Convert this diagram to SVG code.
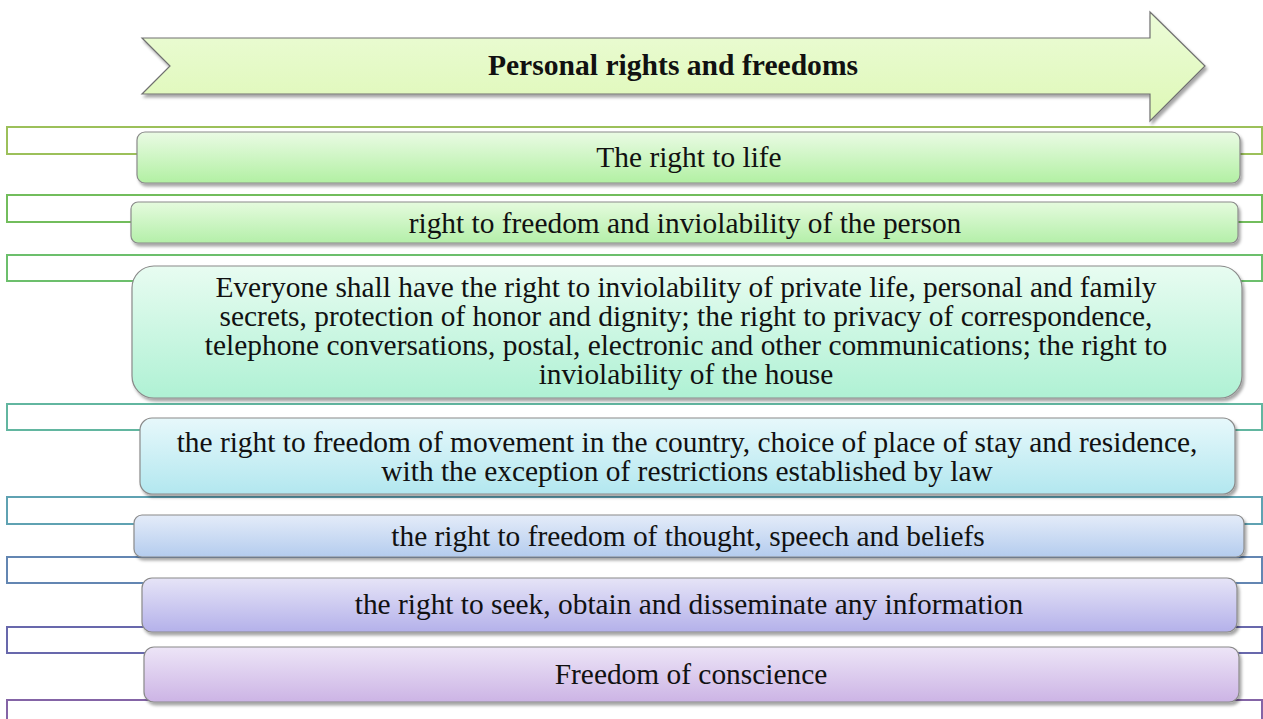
<svg xmlns="http://www.w3.org/2000/svg" width="1263" height="719" viewBox="0 0 1263 719">
<defs>
<filter id="sh" x="-5%" y="-20%" width="110%" height="150%">
<feDropShadow dx="2" dy="3" stdDeviation="1.8" flood-color="#000" flood-opacity="0.35"/>
</filter>
<linearGradient id="gA" x1="0" y1="0" x2="0" y2="1"><stop offset="0" stop-color="#ecfcd8"/><stop offset="1" stop-color="#def8b6"/></linearGradient>
<linearGradient id="g1" x1="0" y1="0" x2="0" y2="1"><stop offset="0" stop-color="#eafbe4"/><stop offset="1" stop-color="#b2f0a3"/></linearGradient>
<linearGradient id="g2" x1="0" y1="0" x2="0" y2="1"><stop offset="0" stop-color="#e5fbde"/><stop offset="1" stop-color="#b4efa9"/></linearGradient>
<linearGradient id="g3" x1="0" y1="0" x2="0" y2="1"><stop offset="0" stop-color="#e8fcf1"/><stop offset="1" stop-color="#aff1d4"/></linearGradient>
<linearGradient id="g4" x1="0" y1="0" x2="0" y2="1"><stop offset="0" stop-color="#e7f8fb"/><stop offset="1" stop-color="#b2e7ef"/></linearGradient>
<linearGradient id="g5" x1="0" y1="0" x2="0" y2="1"><stop offset="0" stop-color="#e4ecf9"/><stop offset="1" stop-color="#b4ccee"/></linearGradient>
<linearGradient id="g6" x1="0" y1="0" x2="0" y2="1"><stop offset="0" stop-color="#e6e4f7"/><stop offset="1" stop-color="#b4b1ea"/></linearGradient>
<linearGradient id="g7" x1="0" y1="0" x2="0" y2="1"><stop offset="0" stop-color="#ede5f7"/><stop offset="1" stop-color="#ccb4e5"/></linearGradient>
</defs>
<style>
.br{fill:none;stroke-width:2}
.box{stroke:#8a8a8a;stroke-width:1.2;filter:url(#sh)}
.t{font-family:"Liberation Serif","Times New Roman",serif;font-size:29.4px;fill:#111;text-anchor:middle}
.tb{font-family:"Liberation Serif","Times New Roman",serif;font-size:29.6px;font-weight:bold;fill:#111;text-anchor:middle}
</style>
<g id="connectors">
<rect class="br" x="7" y="127" width="1255" height="27" stroke="#9cc05a"/>
<rect class="br" x="7" y="195" width="1255" height="27" stroke="#72bd5c"/>
<rect class="br" x="7" y="255" width="1255" height="26" stroke="#6cbf6c"/>
<rect class="br" x="7" y="404" width="1255" height="26" stroke="#62b6a0"/>
<rect class="br" x="7" y="497" width="1255" height="27" stroke="#5fa2b2"/>
<rect class="br" x="7" y="557" width="1255" height="26" stroke="#6386b2"/>
<rect class="br" x="7" y="627" width="1255" height="26" stroke="#6868ac"/>
<rect class="br" x="7" y="700" width="1255" height="27" stroke="#8464a6"/>
</g>
<g id="title">
<polygon points="142,38 1150,38 1150,12 1205,66 1150,121 1150,94 142,94 170,66" fill="url(#gA)" stroke="#707070" stroke-width="1.2" filter="url(#sh)"/>
<text class="tb" x="673" y="75">Personal rights and freedoms</text>
</g>
<g id="n1">
<rect class="box" x="137" y="132" width="1103" height="51" rx="8" fill="url(#g1)"/>
<text class="t" x="689" y="167">The right to life</text>
</g>
<g id="n2">
<rect class="box" x="131" y="202" width="1107" height="41" rx="7" fill="url(#g2)"/>
<text class="t" x="685" y="233">right to freedom and inviolability of the person</text>
</g>
<g id="n3">
<rect class="box" x="132" y="266" width="1110" height="132" rx="22" fill="url(#g3)"/>
<text class="t" x="686" y="297">Everyone shall have the right to inviolability of private life, personal and family</text>
<text class="t" x="686" y="326">secrets, protection of honor and dignity; the right to privacy of correspondence,</text>
<text class="t" x="686" y="355">telephone conversations, postal, electronic and other communications; the right to</text>
<text class="t" x="686" y="384">inviolability of the house</text>
</g>
<g id="n4">
<rect class="box" x="140" y="418" width="1095" height="76" rx="12" fill="url(#g4)"/>
<text class="t" x="687" y="452">the right to freedom of movement in the country, choice of place of stay and residence,</text>
<text class="t" x="687" y="481">with the exception of restrictions established by law</text>
</g>
<g id="n5">
<rect class="box" x="134" y="515" width="1110" height="42" rx="8" fill="url(#g5)"/>
<text class="t" x="688" y="546">the right to freedom of thought, speech and beliefs</text>
</g>
<g id="n6">
<rect class="box" x="142" y="578" width="1095" height="54" rx="10" fill="url(#g6)"/>
<text class="t" x="689" y="614">the right to seek, obtain and disseminate any information</text>
</g>
<g id="n7">
<rect class="box" x="144" y="647" width="1095" height="55" rx="10" fill="url(#g7)"/>
<text class="t" x="691" y="684">Freedom of conscience</text>
</g>
</svg>
